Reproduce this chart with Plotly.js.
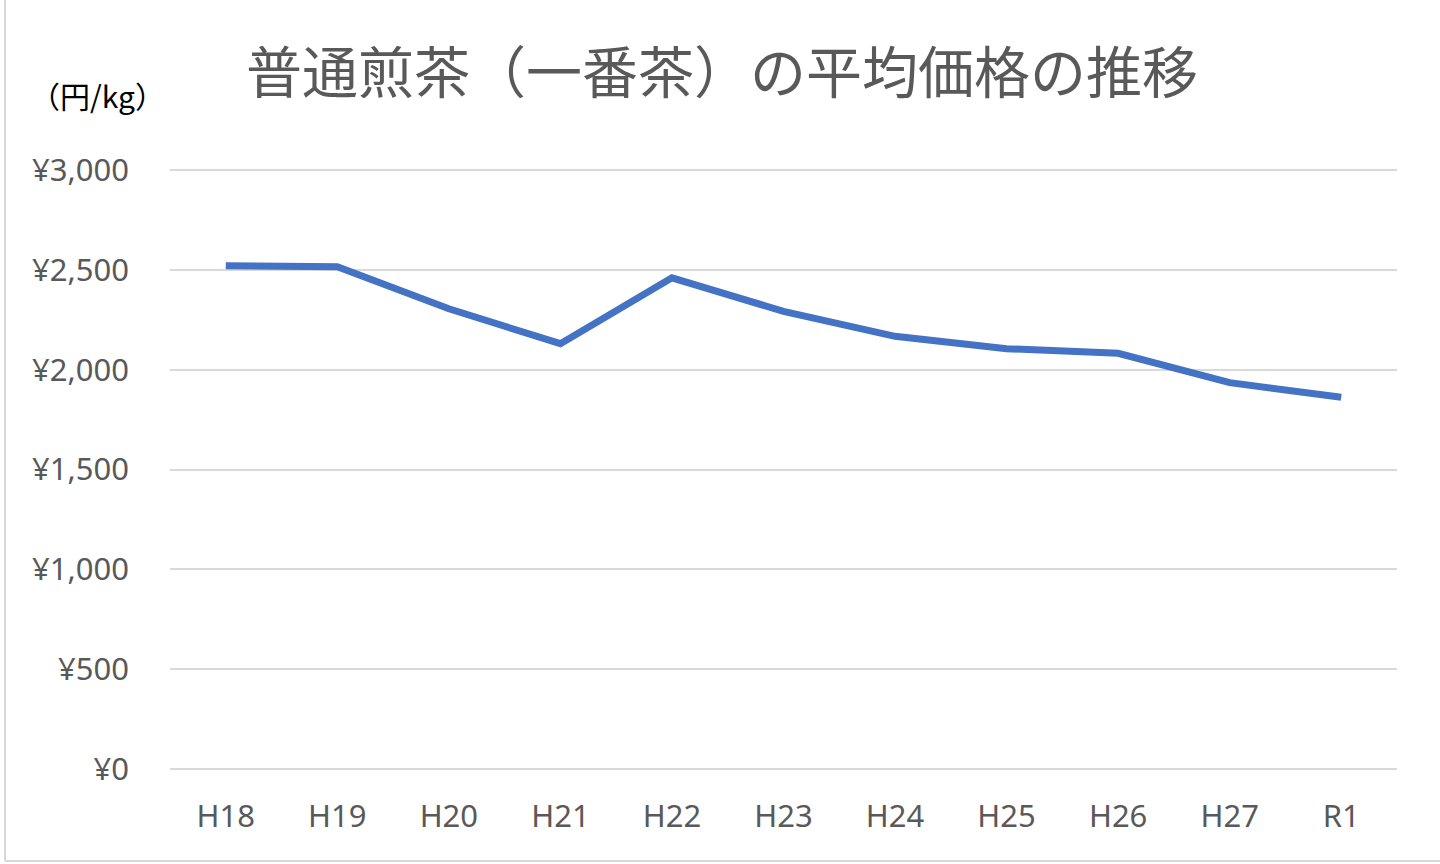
<!DOCTYPE html>
<html>
<head>
<meta charset="utf-8">
<script src="https://cdn.plot.ly/plotly-3.0.1.min.js"></script>
<style>html,body{margin:0;padding:0;background:#fff;}#chart{width:1440px;height:864px;}</style>
</head>
<body>
<div id="chart"></div>
<script>
const categories = ["H18","H19","H20","H21","H22","H23","H24","H25","H26","H27","R1"];
const prices = [2520, 2515, 2305, 2130, 2460, 2292, 2167, 2105, 2082, 1935, 1862];
const yTickValues = [0, 500, 1000, 1500, 2000, 2500, 3000];
const yTickLabels = ["¥0","¥500","¥1,000","¥1,500","¥2,000","¥2,500","¥3,000"];
const chartTitle = "普通煎茶（一番茶）の平均価格の推移";
const unitLabel = "（円/kg）";

const W = 1440, H = 864, L = 170, R = 43, T = 168, B = 93;
const pw = W - L - R, ph = H - T - B;
const px = v => (v - L) / pw;
const py = v => (H - B - v) / ph;

const fontFam = "'Noto Sans', 'Noto Sans CJK JP', sans-serif";

Plotly.newPlot('chart', [{
  type: 'scatter',
  mode: 'lines',
  x: categories,
  y: prices,
  line: {color: '#4472C4', width: 7, shape: 'linear'},
  hoverinfo: 'x+y'
}], {
  width: W, height: H,
  margin: {l: L, r: R, t: T, b: B, pad: 0},
  paper_bgcolor: '#ffffff',
  plot_bgcolor: '#ffffff',
  showlegend: false,
  title: {
    text: chartTitle,
    font: {family: "'Noto Sans CJK JP', sans-serif", size: 56, color: '#595959'},
    x: 722/W, xanchor: 'center',
    y: 1 - 73/H, yanchor: 'middle'
  },
  xaxis: {
    type: 'category',
    range: [-0.5, categories.length - 0.5],
    showgrid: false, zeroline: false, showline: false,
    ticks: '',
    tickfont: {family: fontFam, size: 31, color: '#595959'},
    ticklabelstandoff: 24
  },
  yaxis: {
    range: [-10, 3010],
    tickvals: yTickValues,
    ticktext: yTickLabels,
    showgrid: true, gridcolor: '#d9d9d9', gridwidth: 2,
    zeroline: false, showline: false, ticks: '',
    tickfont: {family: fontFam, size: 31, color: '#595959'},
    ticklabelstandoff: 40
  },
  annotations: [{
    text: unitLabel,
    xref: 'paper', yref: 'paper',
    x: px(97), y: py(95),
    xanchor: 'center', yanchor: 'middle',
    showarrow: false,
    font: {family: "'Noto Sans CJK JP', sans-serif", size: 30, color: '#000000'}
  }],
  shapes: [
    {type: 'line', xref: 'paper', yref: 'paper', x0: px(5), x1: px(5), y0: py(861), y1: py(0), line: {color: '#d9d9d9', width: 2}},
    {type: 'line', xref: 'paper', yref: 'paper', x0: px(5), x1: px(1440), y0: py(861), y1: py(861), line: {color: '#d9d9d9', width: 2}}
  ]
}, {displayModeBar: false, staticPlot: true});
</script>
</body>
</html>
